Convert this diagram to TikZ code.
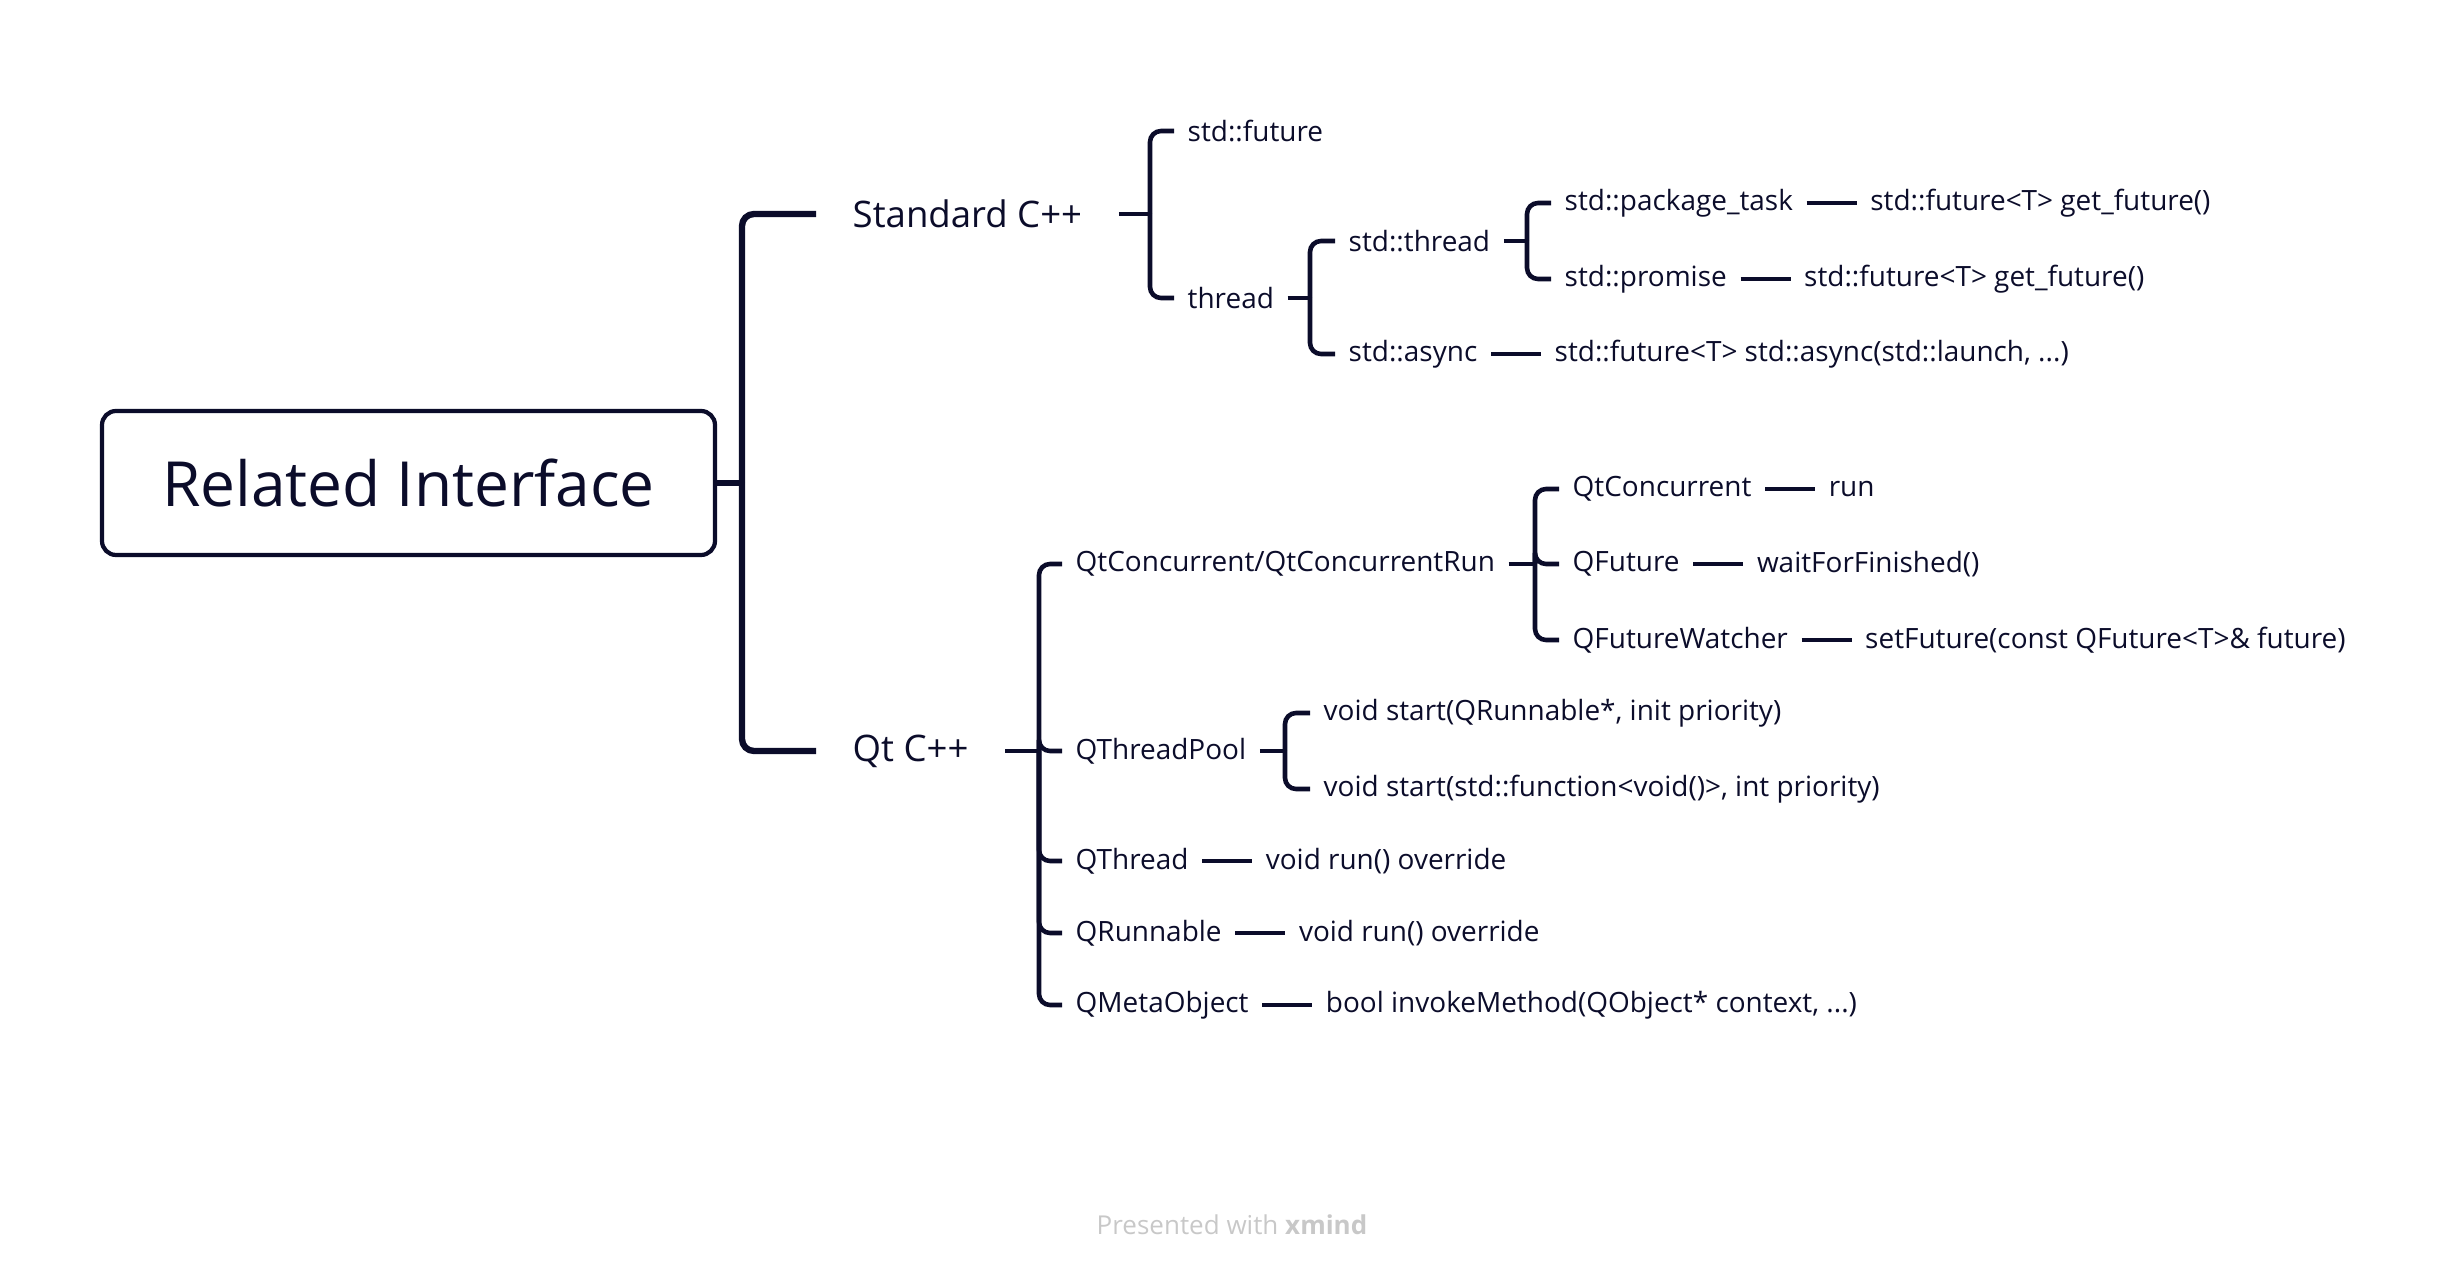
\documentclass[tikz,border=0pt]{standalone}
\usepackage{fontspec}
\setmainfont{Open Sans}
\usetikzlibrary{positioning}
\definecolor{ink}{HTML}{0B0C2A}
\definecolor{brand}{HTML}{C8C8C8}

\begin{document}
\begin{tikzpicture}[
  topic/.style={anchor=west, inner xsep=0.13cm, inner ysep=0.05cm, text=ink, font=\fontsize{7.95}{9}\selectfont},
  main/.style={topic, inner xsep=0.36cm, font=\fontsize{10.4}{12}\selectfont},
  root/.style={draw=ink, line width=1.2pt, rounded corners=0.14cm, minimum width=6.13cm, minimum height=1.44cm, text=ink, font=\fontsize{17.7}{20}\selectfont},
  trunk/.style={draw=ink, line width=1.8pt, rounded corners=0.12cm},
  branch/.style={draw=ink, line width=1.3pt, rounded corners=0.11cm},
  link/.style={draw=ink, line width=1.3pt}
]
\useasboundingbox (0,0) rectangle (24.6,-12.74);

% Root
\node[root] (ri) at (4.085,-4.83) {Related Interface};

% Main topics
\node[main] (sc) at (8.16,-2.14) {Standard C++};
\node[main] (qt) at (8.16,-7.51) {Qt C++};

% Standard C++
\node[topic] (sfut) at (11.74,-1.31) {std::future};
\node[topic] (thr) at (11.74,-2.98) {thread};
\node[topic] (sthr) at (13.35,-2.41) {std::thread};
\node[topic] (sasy) at (13.35,-3.54) {std::async};
\node[topic] (spt) at (15.51,-2.03) {std::package\_task};
\node[topic] (spr) at (15.51,-2.79) {std::promise};
\node[topic, right=0.5cm of spt] (sptf) {std::future<T> get\_future()};
\node[topic, right=0.5cm of spr] (sprf) {std::future<T> get\_future()};
\node[topic, right=0.5cm of sasy] (sasyf) {std::future<T> std::async(std::launch, ...)};

% Qt C++
\node[topic] (qcr) at (10.62,-5.64) {QtConcurrent/QtConcurrentRun};
\node[topic] (qtp) at (10.62,-7.51) {QThreadPool};
\node[topic] (qth) at (10.62,-8.61) {QThread};
\node[topic] (qrn) at (10.62,-9.33) {QRunnable};
\node[topic] (qmo) at (10.62,-10.05) {QMetaObject};
\node[topic] (qc) at (15.59,-4.89) {QtConcurrent};
\node[topic] (qf) at (15.59,-5.64) {QFuture};
\node[topic] (qfw) at (15.59,-6.40) {QFutureWatcher};
\node[topic, right=0.5cm of qc] (qcrun) {run};
\node[topic, right=0.5cm of qf] (qfwait) {waitForFinished()};
\node[topic, right=0.5cm of qfw] (qfwset) {setFuture(const QFuture<T>\& future)};
\node[topic] (st1) at (13.10,-7.13) {void start(QRunnable*, init priority)};
\node[topic] (st2) at (13.10,-7.89) {void start(std::function<void()>, int priority)};
\node[topic, right=0.5cm of qth] (qthrun) {void run() override};
\node[topic, right=0.5cm of qrn] (qrnrun) {void run() override};
\node[topic, right=0.5cm of qmo] (qmoinv) {bool invokeMethod(QObject* context, ...)};

% Junctions
\coordinate (rj) at (7.42,-4.83);
\coordinate (sj) at (11.50,-2.14);
\coordinate (tj) at (13.10,-2.98);
\coordinate (stj) at (15.27,-2.41);
\coordinate (qj) at (10.39,-7.51);
\coordinate (cj) at (15.35,-5.64);
\coordinate (pj) at (12.85,-7.51);

% Connectors
\draw[trunk] (ri.east) -- (rj);
\foreach \c in {sc,qt} \draw[trunk] (rj) |- (\c.west);

\draw[link] (sc.east) -- (sj);
\foreach \c in {sfut,thr} \draw[branch] (sj) |- (\c.west);
\draw[link] (thr.east) -- (tj);
\foreach \c in {sthr,sasy} \draw[branch] (tj) |- (\c.west);
\draw[link] (sthr.east) -- (stj);
\foreach \c in {spt,spr} \draw[branch] (stj) |- (\c.west);
\draw[link] (spt) -- (sptf);
\draw[link] (spr) -- (sprf);
\draw[link] (sasy) -- (sasyf);

\draw[link] (qt.east) -- (qj);
\foreach \c in {qcr,qtp,qth,qrn,qmo} \draw[branch] (qj) |- (\c.west);
\draw[link] (qcr.east) -- (cj);
\foreach \c in {qc,qf,qfw} \draw[branch] (cj) |- (\c.west);
\draw[link] (qtp.east) -- (pj);
\foreach \c in {st1,st2} \draw[branch] (pj) |- (\c.west);
\draw[link] (qc) -- (qcrun);
\draw[link] (qf) -- (qfwait);
\draw[link] (qfw) -- (qfwset);
\draw[link] (qth) -- (qthrun);
\draw[link] (qrn) -- (qrnrun);
\draw[link] (qmo) -- (qmoinv);

% Footer
\node[text=brand, font=\fontsize{7.4}{9}\selectfont] (foot) at (12.32,-12.25) {Presented with \textbf{xmind}};

\end{tikzpicture}
\end{document}
